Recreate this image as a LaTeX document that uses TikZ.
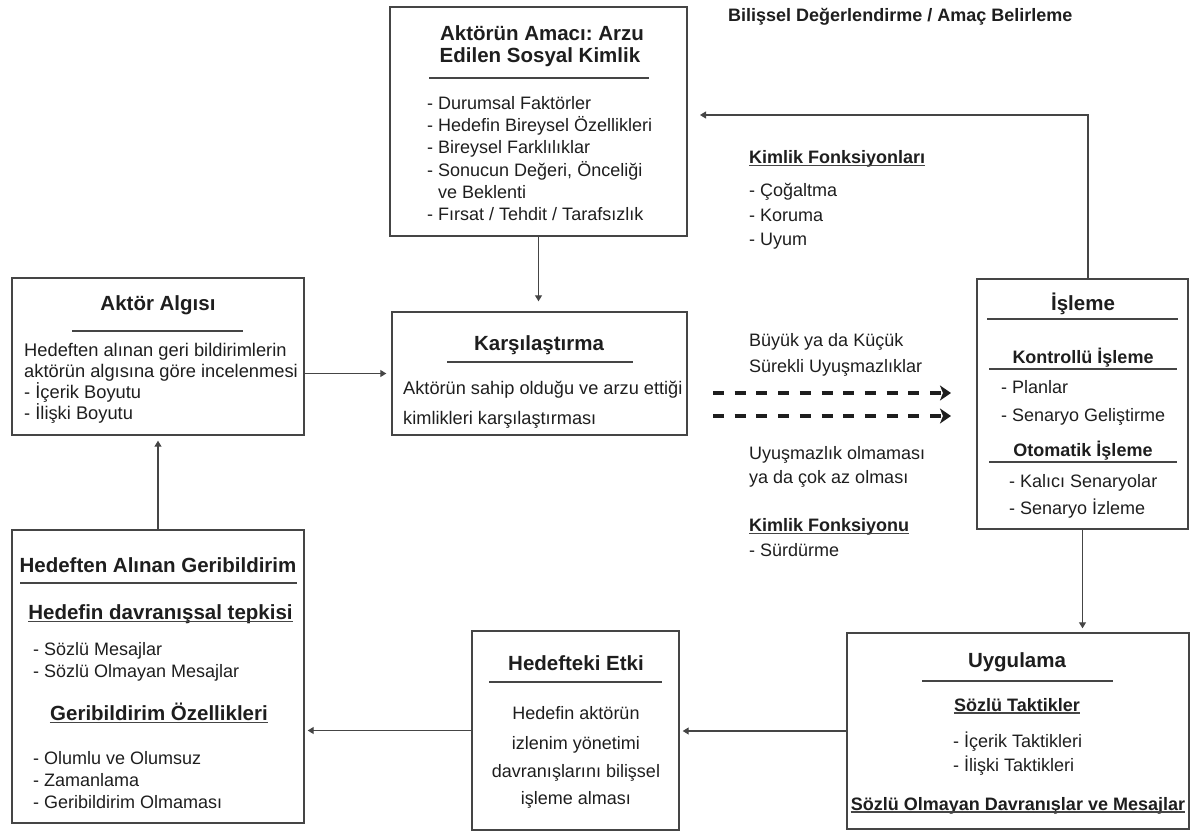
\documentclass[tikz,border=0pt]{standalone}
\usepackage{fontspec}
\setmainfont{Liberation Sans}
\usetikzlibrary{arrows.meta}
\definecolor{ink}{HTML}{1E1E1E}
\definecolor{linec}{HTML}{454545}
\tikzset{
  box/.style={draw=linec, line width=1.4pt, inner sep=0pt, fill=none},
  txt/.style={inner sep=0pt, anchor=base west, text=ink, font=\fontsize{18}{22}\selectfont},
  txtc/.style={txt, anchor=base},
  ttl/.style={inner sep=0pt, anchor=base, text=ink, font=\bfseries\fontsize{20.5}{24}\selectfont},
  subb/.style={inner sep=0pt, anchor=base, text=ink, font=\bfseries\fontsize{18}{22}\selectfont},
  rule/.style={draw=linec, line width=1.2pt},
  conn/.style={draw=linec, line width=1.1pt, -{Triangle[length=6pt,width=7pt]}},
  dasharrow/.style={draw=ink, line width=4pt, dash pattern=on 11pt off 10.7pt,
    -{Stealth[length=11pt,width=15pt,inset=3pt]}},
}
\newcommand{\ulnode}[1]{\draw[rule] ([yshift=-2pt]#1.base west) -- ([yshift=-2pt]#1.base east);}

\begin{document}
\frenchspacing
\begin{tikzpicture}[x=1pt, y=-1pt]
\useasboundingbox (0,0) rectangle (1191,832);

% ---------- boxes ----------
\node[box, minimum width=297pt, minimum height=229pt] (goal) at (538.5,121.5) {};
\node[box, minimum width=292pt, minimum height=157pt] (akt)  at (158,356.5) {};
\node[box, minimum width=295pt, minimum height=123pt] (kar)  at (539.5,373.5) {};
\node[box, minimum width=211pt, minimum height=250pt] (isl)  at (1082.5,404) {};
\node[box, minimum width=342pt, minimum height=196pt] (uyg)  at (1018,731) {};
\node[box, minimum width=207pt, minimum height=199pt] (het)  at (575.5,730.5) {};
\node[box, minimum width=292pt, minimum height=293pt] (hed)  at (158,676.5) {};

% ---------- heading ----------
\node[subb, anchor=base west] (hdr) at (728,21.5) {Bilişsel Değerlendirme / Amaç Belirleme};

% ---------- goal box ----------
\node[ttl] (g0a) at (542,40.5) {Aktörün Amacı: Arzu};
\node[ttl] (g0b) at (540,62.5) {Edilen Sosyal Kimlik};
\draw[rule] (429,78) -- (649,78);
\node[txt] (g1) at (427,109.5) {- Durumsal Faktörler};
\node[txt] (g2) at (427,131.7) {- Hedefin Bireysel Özellikleri};
\node[txt] (g3) at (427,153.9) {- Bireysel Farklılıklar};
\node[txt] (g4) at (427,176.1) {- Sonucun Değeri, Önceliği};
\node[txt] (g5) at (427,198.3) {\phantom{-\ }ve Beklenti};
\node[txt] (g6) at (427,220.5) {- Fırsat / Tehdit / Tarafsızlık};

% ---------- identity functions ----------
\node[subb, anchor=base west] (kf) at (749,163.5) {Kimlik Fonksiyonları};
\ulnode{kf}
\node[txt] (kf1) at (749,196.5) {- Çoğaltma};
\node[txt] (kf2) at (749,221) {- Koruma};
\node[txt] (kf3) at (749,245.5) {- Uyum};

% ---------- actor perception ----------
\node[ttl] (a0) at (158,310.5) {Aktör Algısı};
\draw[rule] (72,331) -- (243,331);
\node[txt, font=\fontsize{18.3}{21}\selectfont] (a1) at (24,356.5) {Hedeften alınan geri bildirimlerin};
\node[txt, font=\fontsize{18.3}{21}\selectfont] (a2) at (24,377.5) {aktörün algısına göre incelenmesi};
\node[txt, font=\fontsize{18.3}{21}\selectfont] (a3) at (24,398.5) {- İçerik Boyutu};
\node[txt, font=\fontsize{18.3}{21}\selectfont] (a4) at (24,419.5) {- İlişki Boyutu};

% ---------- comparison ----------
\node[ttl] (k0) at (539,350.5) {Karşılaştırma};
\draw[rule] (447,362) -- (633,362);
\node[txt, font=\fontsize{18.2}{22}\selectfont] (k1) at (403,394.5) {Aktörün sahip olduğu ve arzu ettiği};
\node[txt, font=\fontsize{18.2}{22}\selectfont] (k2) at (403,424.5) {kimlikleri karşılaştırması};

% ---------- discrepancy labels ----------
\node[txt] (m1) at (749,346.5) {Büyük ya da Küçük};
\node[txt] (m2) at (749,372.5) {Sürekli Uyuşmazlıklar};
\node[txt] (m3) at (749,459.5) {Uyuşmazlık olmaması};
\node[txt] (m4) at (749,483.5) {ya da çok az olması};
\node[subb, anchor=base west] (kf4) at (749,531.5) {Kimlik Fonksiyonu};
\ulnode{kf4}
\node[txt] (kf5) at (749,556.5) {- Sürdürme};

\coordinate (d1s) at (713,393);
\coordinate (d1e) at (951,393);
\coordinate (d2s) at (713,416);
\coordinate (d2e) at (951,416);
\draw[dasharrow] (d1s) -- (d1e);
\draw[dasharrow] (d2s) -- (d2e);

% ---------- processing ----------
\node[ttl] (i0) at (1083,310.5) {İşleme};
\draw[rule] (987,319) -- (1178,319);
\node[subb] (i1) at (1083,363.5) {Kontrollü İşleme};
\draw[rule] (989,369) -- (1177,369);
\node[txt] (i2) at (1001,393.5) {- Planlar};
\node[txt] (i3) at (1001,421.5) {- Senaryo Geliştirme};
\node[subb] (i4) at (1083,456.5) {Otomatik İşleme};
\draw[rule] (989,462) -- (1177,462);
\node[txt] (i5) at (1009,487.5) {- Kalıcı Senaryolar};
\node[txt] (i6) at (1009,514.5) {- Senaryo İzleme};

% ---------- application ----------
\node[ttl] (u0) at (1017,667.5) {Uygulama};
\draw[rule] (922,681) -- (1113,681);
\node[subb] (u1) at (1017,711) {Sözlü Taktikler};
\ulnode{u1}
\node[txt] (u2) at (953,747.5) {- İçerik Taktikleri};
\node[txt] (u3) at (953,771.5) {- İlişki Taktikleri};
\node[subb] (u4) at (1018,810) {Sözlü Olmayan Davranışlar ve Mesajlar};
\ulnode{u4}

% ---------- effect on target ----------
\node[ttl] (e0) at (576,670.5) {Hedefteki Etki};
\draw[rule] (489,682) -- (662,682);
\node[txtc] (e1) at (576,719.5) {Hedefin aktörün};
\node[txtc] (e2) at (576,749.5) {izlenim yönetimi};
\node[txtc] (e3) at (576,777.5) {davranışlarını bilişsel};
\node[txtc] (e4) at (576,804.5) {işleme alması};

% ---------- feedback from target ----------
\node[ttl] (h0) at (158,572.5) {Hedeften Alınan Geribildirim};
\draw[rule] (20,583) -- (297,583);
\node[ttl] (h1) at (160.5,619.5) {Hedefin davranışsal tepkisi};
\ulnode{h1}
\node[txt] (h2) at (33,655.5) {- Sözlü Mesajlar};
\node[txt] (h3) at (33,677.5) {- Sözlü Olmayan Mesajlar};
\node[ttl] (h4) at (159,720.5) {Geribildirim Özellikleri};
\ulnode{h4}
\node[txt] (h5) at (33,764.5) {- Olumlu ve Olumsuz};
\node[txt] (h6) at (33,786.5) {- Zamanlama};
\node[txt] (h7) at (33,808.5) {- Geribildirim Olmaması};

% ---------- connectors ----------
\coordinate (fb) at (700,115);
\draw[conn, shorten >=10pt] (goal.south) -- (goal.south |- kar.north);
\draw[conn, shorten >=5pt] (akt.east |- kar.west) -- (kar.west);
\draw[conn] ([xshift=5.5pt]isl.north) |- (fb);
\draw[conn, shorten >=4pt] (isl.south) -- (isl.south |- uyg.north);
\draw[conn, shorten >=3pt] (uyg.west) -- (uyg.west -| het.east);
\draw[conn, shorten >=3pt] (het.west) -- (het.west -| hed.east);
\draw[conn, shorten >=5pt] (hed.north) -- (akt.south);
\end{tikzpicture}
\end{document}
